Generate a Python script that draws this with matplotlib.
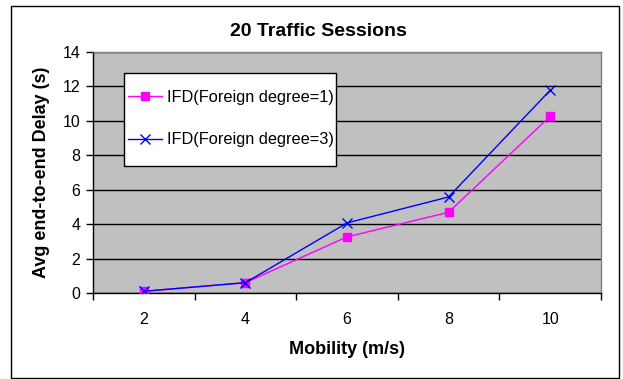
import matplotlib
matplotlib.use("Agg")
import matplotlib.pyplot as plt
from matplotlib.patches import Rectangle

plt.rcParams['font.family'] = ['Liberation Sans', 'DejaVu Sans']

# data
mobility = ['2', '4', '6', '8', '10']
delay_deg1 = [0.1, 0.6, 3.26, 4.69, 10.27]
delay_deg3 = [0.1, 0.6, 4.07, 5.58, 11.78]
y_ticks = [0, 2, 4, 6, 8, 10, 12, 14]

W, H = 623, 379
fig = plt.figure(figsize=(W / 100, H / 100), dpi=100)
fig.patch.set_facecolor('white')

# outer chart border
fig.patches.append(Rectangle((10.5 / W, 1 - 378 / H), 608 / W, 372 / H,
                             transform=fig.transFigure, fill=False,
                             edgecolor='black', linewidth=1.0))

ax = fig.add_axes([93 / W, 1 - 293 / H, 508 / W, 241 / H])
ax.set_facecolor('#C0C0C0')

x = list(range(len(mobility)))
ax.plot(x, delay_deg1, color='#FF00FF', linewidth=1.0, marker='s',
        markersize=5.5, label='IFD(Foreign degree=1)', zorder=3)
ax.plot(x, delay_deg3, color='#0000FF', linewidth=1.0, marker='x',
        markersize=7, markeredgewidth=1.0, label='IFD(Foreign degree=3)', zorder=4)

ax.set_ylim(0, 14)
ax.set_yticks(y_ticks)
ax.set_xlim(-0.5, len(mobility) - 0.5)

# category axis: tick marks between categories, labels at centers
ax.set_xticks([i - 0.5 for i in range(len(mobility) + 1)])
ax.set_xticklabels([])
ax.set_xticks(x, minor=True)
ax.set_xticklabels(mobility, minor=True)
ax.tick_params(axis='x', which='major', direction='out', length=5, width=1, color='black')
ax.tick_params(axis='x', which='minor', length=0, pad=14, labelsize=11.5)
ax.tick_params(axis='y', direction='out', length=5, width=1, color='black', labelsize=11.5, pad=4)

ax.yaxis.grid(True, color='black', linewidth=1.0)
ax.set_axisbelow(True)

for s in ['top', 'right']:
    ax.spines[s].set_color('#808080')
    ax.spines[s].set_linewidth(1.0)
for s in ['left', 'bottom']:
    ax.spines[s].set_color('black')
    ax.spines[s].set_linewidth(1.0)

ax.set_xlabel('Mobility (m/s)', fontsize=13, fontweight='bold', labelpad=10)
ax.set_ylabel('Avg end-to-end Delay (s)', fontsize=13, fontweight='bold', labelpad=9)
fig.text(318 / W, 1 - 31 / H, '20 Traffic Sessions', fontsize=14,
         fontweight='bold', ha='center', va='center')

# legend box drawn by hand, entries placed inside it
fig.patches.append(Rectangle((123.5 / W, 1 - 165.5 / H), 212 / W, 93 / H,
                             transform=fig.transFigure, facecolor='white',
                             edgecolor='black', linewidth=1.0, zorder=5))
leg = ax.legend(loc='center left', bbox_to_anchor=(128 / W, 1 - 118.5 / H),
                bbox_transform=fig.transFigure, fontsize=11.8, frameon=False,
                handlelength=2.1, handletextpad=0.3, labelspacing=1.7,
                borderpad=0, borderaxespad=0)
leg.set_zorder(6)
fig.legends.append(leg)
ax.get_legend().remove()

fig.savefig('out.png', dpi=100)
